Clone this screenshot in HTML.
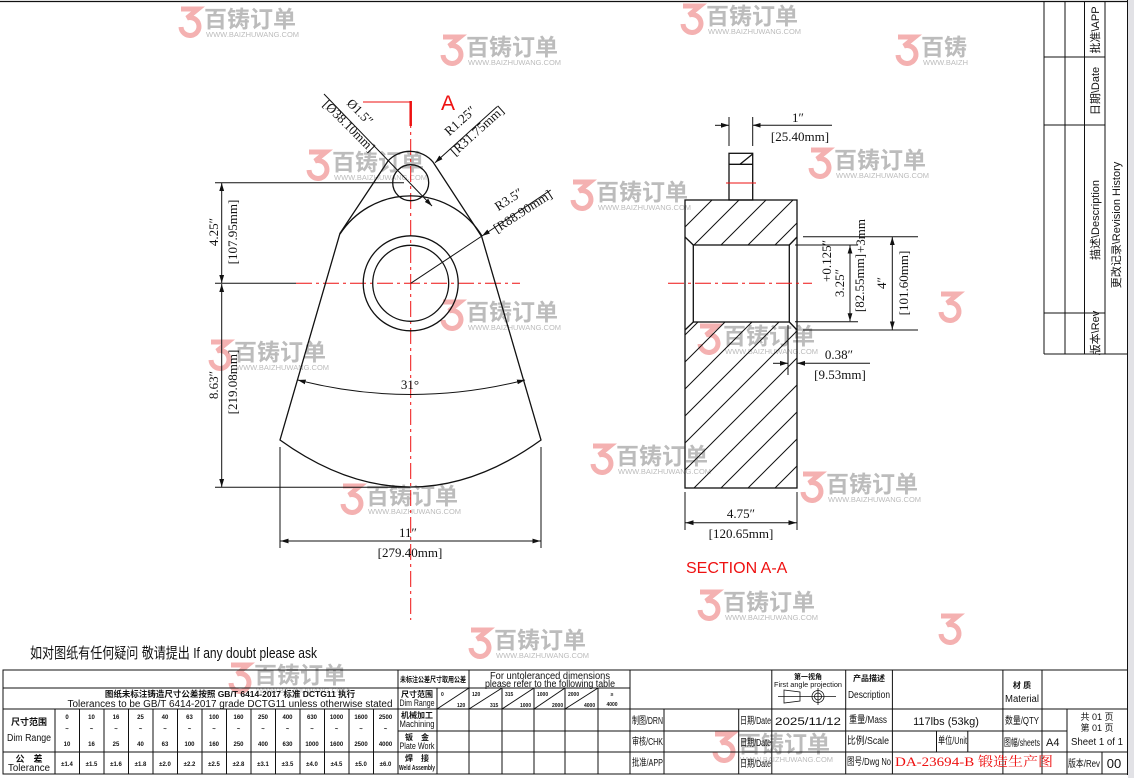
<!DOCTYPE html>
<html><head><meta charset="utf-8"><style>
html,body{margin:0;padding:0;background:#fff;}
svg{display:block;}
.s{font-family:"Liberation Serif","Noto Serif CJK SC",serif;font-size:13px;fill:#111;}
.n{font-family:"Liberation Sans","Noto Sans CJK SC",sans-serif;fill:#111;}
.wm{font-family:"Noto Sans CJK SC","WenQuanYi Zen Hei",sans-serif;font-weight:bold;font-size:23px;fill:#b0b0b0;}
.wu{font-family:"Liberation Sans",sans-serif;font-size:7.5px;fill:#b0b0b0;}
</style></head><body>
<svg width="1134" height="778" viewBox="0 0 1134 778" xmlns="http://www.w3.org/2000/svg">
<defs>
<marker id="a" viewBox="0 0 10 10" refX="10" refY="5" markerWidth="8" markerHeight="8" orient="auto-start-reverse" markerUnits="userSpaceOnUse"><path d="M0,2 L10,5 L0,8 z" fill="#111"/></marker>
<pattern id="h" width="27" height="27" patternUnits="userSpaceOnUse" x="685" y="200"><path d="M-2,29 L29,-2 M-2,2 L2,-2 M25,29 L29,25" stroke="#111" stroke-width="1"/></pattern>
<clipPath id="cl"><rect x="0" y="0" width="968" height="778"/></clipPath>
</defs>
<rect width="1134" height="778" fill="#fff"/>
<rect x="1128" y="0" width="6" height="778" fill="#e2e2e6"/>

<g clip-path="url(#cl)">
<g opacity="0.85">
<g transform="translate(178,5)"><path d="M3,4 H20 L9,13 A9,9 0 1 1 3,22" fill="none" stroke="#f2a3a3" stroke-width="5"/><text class="wm" x="26" y="22">百铸订单</text><text class="wu" x="28" y="32">WWW.BAIZHUWANG.COM</text></g>
<g transform="translate(680,2)"><path d="M3,4 H20 L9,13 A9,9 0 1 1 3,22" fill="none" stroke="#f2a3a3" stroke-width="5"/><text class="wm" x="26" y="22">百铸订单</text><text class="wu" x="28" y="32">WWW.BAIZHUWANG.COM</text></g>
<g transform="translate(440,33)"><path d="M3,4 H20 L9,13 A9,9 0 1 1 3,22" fill="none" stroke="#f2a3a3" stroke-width="5"/><text class="wm" x="26" y="22">百铸订单</text><text class="wu" x="28" y="32">WWW.BAIZHUWANG.COM</text></g>
<g transform="translate(895,33)"><path d="M3,4 H20 L9,13 A9,9 0 1 1 3,22" fill="none" stroke="#f2a3a3" stroke-width="5"/><text class="wm" x="26" y="22">百铸订单</text><text class="wu" x="28" y="32">WWW.BAIZHUWANG.COM</text></g>
<g transform="translate(306,148)"><path d="M3,4 H20 L9,13 A9,9 0 1 1 3,22" fill="none" stroke="#f2a3a3" stroke-width="5"/><text class="wm" x="26" y="22">百铸订单</text><text class="wu" x="28" y="32">WWW.BAIZHUWANG.COM</text></g>
<g transform="translate(808,146)"><path d="M3,4 H20 L9,13 A9,9 0 1 1 3,22" fill="none" stroke="#f2a3a3" stroke-width="5"/><text class="wm" x="26" y="22">百铸订单</text><text class="wu" x="28" y="32">WWW.BAIZHUWANG.COM</text></g>
<g transform="translate(570,178)"><path d="M3,4 H20 L9,13 A9,9 0 1 1 3,22" fill="none" stroke="#f2a3a3" stroke-width="5"/><text class="wm" x="26" y="22">百铸订单</text><text class="wu" x="28" y="32">WWW.BAIZHUWANG.COM</text></g>
<g transform="translate(440,298)"><path d="M3,4 H20 L9,13 A9,9 0 1 1 3,22" fill="none" stroke="#f2a3a3" stroke-width="5"/><text class="wm" x="26" y="22">百铸订单</text><text class="wu" x="28" y="32">WWW.BAIZHUWANG.COM</text></g>
<g transform="translate(697,322)"><path d="M3,4 H20 L9,13 A9,9 0 1 1 3,22" fill="none" stroke="#f2a3a3" stroke-width="5"/><text class="wm" x="26" y="22">百铸订单</text><text class="wu" x="28" y="32">WWW.BAIZHUWANG.COM</text></g>
<g transform="translate(208,338)"><path d="M3,4 H20 L9,13 A9,9 0 1 1 3,22" fill="none" stroke="#f2a3a3" stroke-width="5"/><text class="wm" x="26" y="22">百铸订单</text><text class="wu" x="28" y="32">WWW.BAIZHUWANG.COM</text></g>
<g transform="translate(590,442)"><path d="M3,4 H20 L9,13 A9,9 0 1 1 3,22" fill="none" stroke="#f2a3a3" stroke-width="5"/><text class="wm" x="26" y="22">百铸订单</text><text class="wu" x="28" y="32">WWW.BAIZHUWANG.COM</text></g>
<g transform="translate(800,470)"><path d="M3,4 H20 L9,13 A9,9 0 1 1 3,22" fill="none" stroke="#f2a3a3" stroke-width="5"/><text class="wm" x="26" y="22">百铸订单</text><text class="wu" x="28" y="32">WWW.BAIZHUWANG.COM</text></g>
<g transform="translate(340,482)"><path d="M3,4 H20 L9,13 A9,9 0 1 1 3,22" fill="none" stroke="#f2a3a3" stroke-width="5"/><text class="wm" x="26" y="22">百铸订单</text><text class="wu" x="28" y="32">WWW.BAIZHUWANG.COM</text></g>
<g transform="translate(697,588)"><path d="M3,4 H20 L9,13 A9,9 0 1 1 3,22" fill="none" stroke="#f2a3a3" stroke-width="5"/><text class="wm" x="26" y="22">百铸订单</text><text class="wu" x="28" y="32">WWW.BAIZHUWANG.COM</text></g>
<g transform="translate(468,626)"><path d="M3,4 H20 L9,13 A9,9 0 1 1 3,22" fill="none" stroke="#f2a3a3" stroke-width="5"/><text class="wm" x="26" y="22">百铸订单</text><text class="wu" x="28" y="32">WWW.BAIZHUWANG.COM</text></g>
<g transform="translate(228,661)"><path d="M3,4 H20 L9,13 A9,9 0 1 1 3,22" fill="none" stroke="#f2a3a3" stroke-width="5"/><text class="wm" x="26" y="22">百铸订单</text><text class="wu" x="28" y="32">WWW.BAIZHUWANG.COM</text></g>
<g transform="translate(712,730)"><path d="M3,4 H20 L9,13 A9,9 0 1 1 3,22" fill="none" stroke="#f2a3a3" stroke-width="5"/><text class="wm" x="26" y="22">百铸订单</text><text class="wu" x="28" y="32">WWW.BAIZHUWANG.COM</text></g>
<g transform="translate(938,290)"><path d="M3,4 H20 L9,13 A9,9 0 1 1 3,22" fill="none" stroke="#f2a3a3" stroke-width="5"/></g>
<g transform="translate(938,612)"><path d="M3,4 H20 L9,13 A9,9 0 1 1 3,22" fill="none" stroke="#f2a3a3" stroke-width="5"/></g>
</g>
</g>

<line x1="0" y1="1.5" x2="1128" y2="1.5" stroke="#111" stroke-width="1.2"/>
<line x1="1127.5" y1="0" x2="1127.5" y2="775" stroke="#111" stroke-width="1"/>

<g stroke="#111" stroke-width="1" fill="none">
<line x1="1044" y1="1" x2="1044" y2="354"/>
<line x1="1065" y1="1" x2="1065" y2="354"/>
<line x1="1084.5" y1="1" x2="1084.5" y2="354"/>
<line x1="1105" y1="1" x2="1105" y2="354"/>
<line x1="1044" y1="354" x2="1128" y2="354"/>
<line x1="1044" y1="57" x2="1105" y2="57"/>
<line x1="1044" y1="125" x2="1105" y2="125"/>
<line x1="1044" y1="313" x2="1105" y2="313"/>
</g>
<g class="n" font-size="11">
<text transform="translate(1099,30) rotate(-90)" text-anchor="middle">批准\APP</text>
<text transform="translate(1099,91) rotate(-90)" text-anchor="middle">日期\Date</text>
<text transform="translate(1099,220) rotate(-90)" text-anchor="middle">描述\Description</text>
<text transform="translate(1099,333) rotate(-90)" text-anchor="middle">版本\Rev</text>
<text transform="translate(1120,225) rotate(-90)" text-anchor="middle">更改记录\Revision History</text>
</g>

<g stroke="#e11" stroke-width="1" stroke-dasharray="16 4 3 4" fill="none">
<line x1="410.7" y1="112" x2="410.7" y2="620"/>
<line x1="296" y1="283.3" x2="520" y2="283.3"/>
</g>
<line x1="363" y1="102" x2="411" y2="102" stroke="#e11" stroke-width="1"/>
<line x1="410.7" y1="101" x2="410.7" y2="126" stroke="#e11" stroke-width="2.5"/>
<text x="441" y="110" font-family="Liberation Sans,sans-serif" font-size="21" fill="#e11">A</text>

<g stroke="#111" stroke-width="1.3" fill="none">
<path d="M388,161 A30,30 0 0 1 433,162 L481.7,236.7 L541,440 Q410.5,534 280,440 L340,233.3 L388,161 Z"/>
<circle cx="410.7" cy="182.7" r="18"/>
<path d="M340,234 A84,84 0 0 1 482,236"/>
<circle cx="410.7" cy="283.3" r="47.5"/>
<circle cx="410.7" cy="283.3" r="38"/>
</g>
<path d="M297.7,380 Q411,409 525,380" stroke="#111" stroke-width="1" fill="none" marker-start="url(#a)" marker-end="url(#a)"/>
<text class="s" x="410" y="389" text-anchor="middle">31°</text>

<g stroke="#111" stroke-width="1" fill="none">
<line x1="215" y1="182.7" x2="404" y2="182.7"/>
<line x1="215" y1="283.3" x2="296" y2="283.3"/>
<line x1="215" y1="487.3" x2="410" y2="487.3"/>
<line x1="221.7" y1="183" x2="221.7" y2="283" marker-start="url(#a)" marker-end="url(#a)"/>
<line x1="221.7" y1="284" x2="221.7" y2="487" marker-start="url(#a)" marker-end="url(#a)"/>
<line x1="280" y1="447" x2="280" y2="548"/>
<line x1="541" y1="447" x2="541" y2="548"/>
<line x1="280.5" y1="541" x2="540.5" y2="541" marker-start="url(#a)" marker-end="url(#a)"/>
<line x1="324" y1="94" x2="432" y2="206" marker-end="url(#a)"/>
<line x1="497" y1="106.7" x2="435" y2="162.7" marker-end="url(#a)"/>
<line x1="550.7" y1="190" x2="482" y2="236" marker-end="url(#a)"/>
<line x1="482" y1="236" x2="410.7" y2="283.3"/>
</g>
<text class="s" transform="translate(218,232) rotate(-90)" text-anchor="middle">4.25″</text>
<text class="s" transform="translate(237,232) rotate(-90)" text-anchor="middle">[107.95mm]</text>
<text class="s" transform="translate(218,385) rotate(-90)" text-anchor="middle">8.63″</text>
<text class="s" transform="translate(237,382) rotate(-90)" text-anchor="middle">[219.08mm]</text>
<text class="s" x="408" y="537" text-anchor="middle">11″</text>
<text class="s" x="410" y="557" text-anchor="middle">[279.40mm]</text>
<text class="s" transform="translate(357,115) rotate(45)" text-anchor="middle">Ø1.5″</text>
<text class="s" transform="translate(346,129) rotate(45)" text-anchor="middle">[Ø38.10mm]</text>
<text class="s" transform="translate(463,124) rotate(-42)" text-anchor="middle">R1.25″</text>
<text class="s" transform="translate(480,134) rotate(-42)" text-anchor="middle">[R31.75mm]</text>
<text class="s" transform="translate(511,203) rotate(-33)" text-anchor="middle">R3.5″</text>
<text class="s" transform="translate(525,215) rotate(-33)" text-anchor="middle">[R88.90mm]</text>

<path d="M685,200 H797 V237 L789,245 H693 L685,237 Z" fill="url(#h)"/>
<path d="M685,330 L693,322 H789 L797,330 V488 H685 Z" fill="url(#h)"/>
<g stroke="#111" stroke-width="1.3" fill="none">
<rect x="685" y="200" width="112" height="288"/>
<rect x="729" y="153.3" width="23.7" height="46.7"/>
<line x1="729" y1="164.3" x2="752.7" y2="164.3"/>
<line x1="740" y1="164.3" x2="752.7" y2="154"/>
<rect x="693.3" y="245" width="96" height="77"/>
<line x1="685" y1="237" x2="693.3" y2="245"/>
<line x1="797" y1="237" x2="789.3" y2="245"/>
<line x1="685" y1="330" x2="693.3" y2="322"/>
<line x1="797" y1="330" x2="789.3" y2="322"/>
</g>
<line x1="726" y1="183" x2="756" y2="183" stroke="#e11" stroke-width="1"/>
<line x1="668" y1="283.3" x2="812" y2="283.3" stroke="#e11" stroke-width="1" stroke-dasharray="16 4 3 4"/>
<g stroke="#111" stroke-width="1" fill="none">
<line x1="729" y1="117" x2="729" y2="146"/>
<line x1="752.7" y1="117" x2="752.7" y2="146"/>
<line x1="715" y1="125.3" x2="729" y2="125.3" marker-end="url(#a)"/>
<line x1="832" y1="125.3" x2="752.7" y2="125.3" marker-end="url(#a)"/>
<line x1="795" y1="245" x2="858" y2="245"/>
<line x1="795" y1="321.7" x2="858" y2="321.7"/>
<line x1="850" y1="245.5" x2="850" y2="321.2" marker-start="url(#a)" marker-end="url(#a)"/>
<line x1="803" y1="236.7" x2="918" y2="236.7"/>
<line x1="803" y1="330" x2="918" y2="330"/>
<line x1="892.3" y1="237" x2="892.3" y2="329.5" marker-start="url(#a)" marker-end="url(#a)"/>
<line x1="788" y1="325" x2="788" y2="375"/>
<line x1="773" y1="363.3" x2="788" y2="363.3" marker-end="url(#a)"/>
<line x1="870" y1="363.3" x2="797" y2="363.3" marker-end="url(#a)"/>
<line x1="685" y1="492" x2="685" y2="530"/>
<line x1="797" y1="492" x2="797" y2="530"/>
<line x1="685.5" y1="522.7" x2="796.5" y2="522.7" marker-start="url(#a)" marker-end="url(#a)"/>
</g>
<text class="s" x="798" y="122" text-anchor="middle">1″</text>
<text class="s" x="800" y="141" text-anchor="middle">[25.40mm]</text>
<text class="s" transform="translate(844,283) rotate(-90)" text-anchor="middle">3.25″</text>
<text class="s" font-size="6" transform="translate(831,261) rotate(-90)" text-anchor="middle">+0.125″</text>
<text class="s" transform="translate(864,283) rotate(-90)" text-anchor="middle">[82.55mm]</text>
<text class="s" font-size="6" transform="translate(865,236) rotate(-90)" text-anchor="middle">+3mm</text>
<text class="s" transform="translate(886,283) rotate(-90)" text-anchor="middle">4″</text>
<text class="s" transform="translate(908,283) rotate(-90)" text-anchor="middle">[101.60mm]</text>
<text class="s" x="839" y="359" text-anchor="middle">0.38″</text>
<text class="s" x="840" y="379" text-anchor="middle">[9.53mm]</text>
<text class="s" x="741" y="518" text-anchor="middle">4.75″</text>
<text class="s" x="741" y="538" text-anchor="middle">[120.65mm]</text>
<text x="686" y="573" font-family="Liberation Sans,sans-serif" font-size="16" fill="#e11">SECTION A-A</text>

<text x="30" y="658" font-family="Liberation Sans,Noto Sans CJK SC,sans-serif" font-size="15" fill="#111" textLength="287" lengthAdjust="spacingAndGlyphs">如对图纸有任何疑问 敬请提出 If any doubt please ask</text>

<g stroke="#111" stroke-width="1" fill="none">
<rect x="3" y="670" width="1124.5" height="104"/>
<line x1="3" y1="688" x2="630" y2="688"/>
<line x1="3" y1="709" x2="1127" y2="709"/>
<line x1="3" y1="752" x2="1127" y2="752"/>
<line x1="398" y1="731" x2="1067" y2="731"/>
<line x1="55" y1="709" x2="55" y2="774"/>
<line x1="398" y1="670" x2="398" y2="774"/>
<line x1="437" y1="688" x2="437" y2="774"/>
<line x1="469" y1="670" x2="469" y2="774"/>
<line x1="502" y1="688" x2="502" y2="774"/>
<line x1="534" y1="688" x2="534" y2="774"/>
<line x1="565" y1="688" x2="565" y2="774"/>
<line x1="598" y1="688" x2="598" y2="774"/>
<line x1="630" y1="670" x2="630" y2="774"/>
<line x1="664" y1="709" x2="664" y2="774"/>
<line x1="738.7" y1="709" x2="738.7" y2="774"/>
<line x1="771.8" y1="670" x2="771.8" y2="774"/>
<line x1="845.7" y1="670" x2="845.7" y2="774"/>
<line x1="892.4" y1="670" x2="892.4" y2="774"/>
<line x1="936.5" y1="731" x2="936.5" y2="752"/>
<line x1="967.8" y1="731" x2="967.8" y2="752"/>
<line x1="1002.9" y1="670" x2="1002.9" y2="774"/>
<line x1="1042" y1="670" x2="1042" y2="774"/>
<line x1="1067" y1="709" x2="1067" y2="774"/>
<line x1="1102" y1="752" x2="1102" y2="774"/>
<line x1="437" y1="709" x2="469" y2="688"/>
<line x1="469" y1="709" x2="502" y2="688"/>
<line x1="502" y1="709" x2="534" y2="688"/>
<line x1="534" y1="709" x2="565" y2="688"/>
<line x1="565" y1="709" x2="598" y2="688"/>
</g>
<g stroke="#111" stroke-width="1">
<line x1="79.5" y1="709" x2="79.5" y2="774"/><line x1="104" y1="709" x2="104" y2="774"/><line x1="128.5" y1="709" x2="128.5" y2="774"/><line x1="153" y1="709" x2="153" y2="774"/><line x1="177.5" y1="709" x2="177.5" y2="774"/><line x1="202" y1="709" x2="202" y2="774"/><line x1="226.5" y1="709" x2="226.5" y2="774"/><line x1="251" y1="709" x2="251" y2="774"/><line x1="275.5" y1="709" x2="275.5" y2="774"/><line x1="300" y1="709" x2="300" y2="774"/><line x1="324.5" y1="709" x2="324.5" y2="774"/><line x1="349" y1="709" x2="349" y2="774"/><line x1="373.5" y1="709" x2="373.5" y2="774"/>
</g>
<g class="n" text-anchor="middle">
<text x="230" y="697" font-size="8.5" font-weight="bold">图纸未标注铸造尺寸公差按照 GB/T 6414-2017 标准 DCTG11 执行</text>
<text x="230" y="707" font-size="10" textLength="325" lengthAdjust="spacingAndGlyphs">Tolerances to be GB/T 6414-2017 grade DCTG11 unless otherwise stated</text>
<text x="29" y="725" font-size="9" font-weight="bold">尺寸范围</text>
<text x="29" y="741" font-size="10" textLength="44" lengthAdjust="spacingAndGlyphs">Dim Range</text>
<text x="29" y="762" font-size="9" font-weight="bold">公　差</text>
<text x="29" y="771" font-size="10" textLength="42" lengthAdjust="spacingAndGlyphs">Tolerance</text>
</g>
<g class="n" font-size="6" text-anchor="middle" font-weight="bold">
<text x="67" y="719">0</text><text x="67" y="731">~</text><text x="67" y="746">10</text><text x="67" y="766">±1.4</text>
<text x="91.5" y="719">10</text><text x="91.5" y="731">~</text><text x="91.5" y="746">16</text><text x="91.5" y="766">±1.5</text>
<text x="116" y="719">16</text><text x="116" y="731">~</text><text x="116" y="746">25</text><text x="116" y="766">±1.6</text>
<text x="140.5" y="719">25</text><text x="140.5" y="731">~</text><text x="140.5" y="746">40</text><text x="140.5" y="766">±1.8</text>
<text x="165" y="719">40</text><text x="165" y="731">~</text><text x="165" y="746">63</text><text x="165" y="766">±2.0</text>
<text x="189.5" y="719">63</text><text x="189.5" y="731">~</text><text x="189.5" y="746">100</text><text x="189.5" y="766">±2.2</text>
<text x="214" y="719">100</text><text x="214" y="731">~</text><text x="214" y="746">160</text><text x="214" y="766">±2.5</text>
<text x="238.5" y="719">160</text><text x="238.5" y="731">~</text><text x="238.5" y="746">250</text><text x="238.5" y="766">±2.8</text>
<text x="263" y="719">250</text><text x="263" y="731">~</text><text x="263" y="746">400</text><text x="263" y="766">±3.1</text>
<text x="287.5" y="719">400</text><text x="287.5" y="731">~</text><text x="287.5" y="746">630</text><text x="287.5" y="766">±3.5</text>
<text x="312" y="719">630</text><text x="312" y="731">~</text><text x="312" y="746">1000</text><text x="312" y="766">±4.0</text>
<text x="336.5" y="719">1000</text><text x="336.5" y="731">~</text><text x="336.5" y="746">1600</text><text x="336.5" y="766">±4.5</text>
<text x="361" y="719">1600</text><text x="361" y="731">~</text><text x="361" y="746">2500</text><text x="361" y="766">±5.0</text>
<text x="385.5" y="719">2500</text><text x="385.5" y="731">~</text><text x="385.5" y="746">4000</text><text x="385.5" y="766">±6.0</text>
</g>
<g class="n" text-anchor="middle">
<text x="433" y="682" font-size="7.5" font-weight="bold" textLength="66" lengthAdjust="spacingAndGlyphs">未标注公差尺寸取用公差</text>
<text x="550" y="679" font-size="10" textLength="120" lengthAdjust="spacingAndGlyphs">For untoleranced dimensions</text>
<text x="550" y="687" font-size="10" textLength="130" lengthAdjust="spacingAndGlyphs">please refer to the following table</text>
<text x="417" y="697" font-size="8" font-weight="bold">尺寸范围</text>
<text x="417" y="706" font-size="9" textLength="35" lengthAdjust="spacingAndGlyphs">Dim Range</text>
<text x="417" y="718" font-size="8" font-weight="bold">机械加工</text>
<text x="417" y="727" font-size="9" textLength="35" lengthAdjust="spacingAndGlyphs">Machining</text>
<text x="417" y="740" font-size="8" font-weight="bold">钣　金</text>
<text x="417" y="749" font-size="9" textLength="35" lengthAdjust="spacingAndGlyphs">Plate Work</text>
<text x="417" y="761" font-size="8" font-weight="bold">焊　接</text>
<text x="417" y="770" font-size="7" font-weight="bold" textLength="36" lengthAdjust="spacingAndGlyphs">Weld Assembly</text>
</g>
<g class="n" font-size="5" font-weight="bold">
<text x="441" y="696">0</text><text x="457" y="707">120</text>
<text x="472" y="696">120</text><text x="490" y="707">315</text>
<text x="505" y="696">315</text><text x="520" y="707">1000</text>
<text x="537" y="696">1000</text><text x="552" y="707">2000</text>
<text x="568" y="696">2000</text><text x="584" y="707">4000</text>
<text x="612" y="696" text-anchor="middle">≥</text><text x="612" y="706" text-anchor="middle">4000</text>
</g>
<g class="n" text-anchor="middle">
<text x="808" y="679" font-size="7" font-weight="bold">第一视角</text>
<text x="808" y="687" font-size="7" textLength="68" lengthAdjust="spacingAndGlyphs">First angle projection</text>
</g>
<g stroke="#111" stroke-width="0.8" fill="none">
<path d="M784,690 L800,692 L800,701 L784,703 Z"/>
<line x1="778" y1="696.5" x2="836" y2="696.5"/>
<circle cx="818" cy="696.5" r="6"/><circle cx="818" cy="696.5" r="3.5"/>
<line x1="818" y1="688" x2="818" y2="705"/>
</g>
<g class="n" text-anchor="middle">
<text x="869" y="681" font-size="8" font-weight="bold">产品描述</text>
<text x="869" y="698" font-size="10" textLength="42" lengthAdjust="spacingAndGlyphs">Description</text>
<text x="1022" y="688" font-size="8" font-weight="bold">材 质</text>
<text x="1022" y="702" font-size="10" textLength="34" lengthAdjust="spacingAndGlyphs">Material</text>
</g>
<g class="n" font-size="10">
<text x="632" y="724" textLength="31" lengthAdjust="spacingAndGlyphs">制图/DRN</text>
<text x="632" y="745" textLength="31" lengthAdjust="spacingAndGlyphs">审核/CHK</text>
<text x="632" y="766" textLength="31" lengthAdjust="spacingAndGlyphs">批准/APP</text>
<text x="740" y="724" textLength="31" lengthAdjust="spacingAndGlyphs">日期/Date</text>
<text x="740" y="746" textLength="31" lengthAdjust="spacingAndGlyphs">日期/Date</text>
<text x="740" y="767" textLength="31" lengthAdjust="spacingAndGlyphs">日期/Date</text>
<text x="849" y="723" textLength="38" lengthAdjust="spacingAndGlyphs">重量/Mass</text>
<text x="847" y="744" textLength="42" lengthAdjust="spacingAndGlyphs">比例/Scale</text>
<text x="847" y="765" textLength="44" lengthAdjust="spacingAndGlyphs">图号/Dwg No</text>
<text x="938" y="744" textLength="29" lengthAdjust="spacingAndGlyphs">单位/Unit</text>
<text x="1005" y="724" textLength="34" lengthAdjust="spacingAndGlyphs">数量/QTY</text>
<text x="1004" y="746" textLength="36" lengthAdjust="spacingAndGlyphs">图幅/sheets</text>
<text x="1068" y="767" textLength="32" lengthAdjust="spacingAndGlyphs">版本/Rev</text>
<text x="1046" y="746" font-size="11">A4</text>
</g>
<g class="n" text-anchor="middle" font-size="11">
<text x="808" y="725" textLength="66" lengthAdjust="spacingAndGlyphs">2025/11/12</text>
<text x="946" y="725">117lbs (53kg)</text>
<text x="1114" y="768" font-size="13">00</text>
<text x="1097" y="720" font-size="9">共 01 页</text>
<text x="1097" y="731" font-size="9">第 01 页</text>
<text x="1097" y="745" font-size="10" textLength="52" lengthAdjust="spacingAndGlyphs">Sheet 1 of 1</text>
</g>
<text x="895" y="766" font-family="Liberation Serif,Noto Serif CJK SC,serif" font-size="13" fill="#e11" textLength="158" lengthAdjust="spacingAndGlyphs">DA-23694-B 锻造生产图</text>
</svg>
</body></html>
